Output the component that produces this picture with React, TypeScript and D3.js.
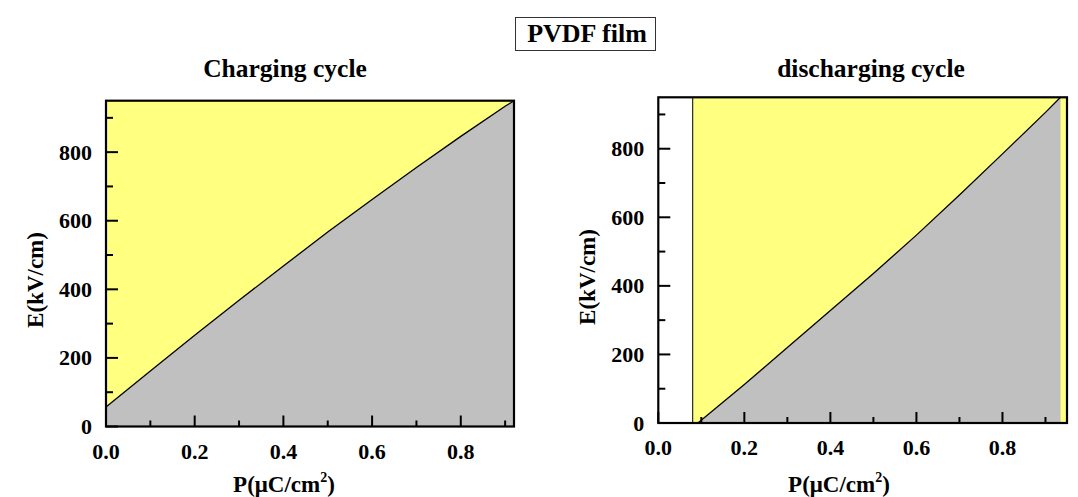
import React from 'react';
import * as d3 from 'd3';

// ---- data ----
const chargeP = [0, 0.1, 0.2, 0.3, 0.4, 0.5, 0.6, 0.7, 0.8, 0.9, 0.92];
const chargeE = [57, 162, 266, 368, 468, 567, 662, 755, 846, 934, 950];
const dischargeP = [0.092, 0.2, 0.3, 0.4, 0.5, 0.6, 0.7, 0.8, 0.9, 0.935];
const dischargeE = [0, 112, 220, 328, 436, 548, 665, 785, 906, 950];
const dischargeStartP = 0.08;
const xMajorTicks = [0, 0.2, 0.4, 0.6, 0.8];
const xMinorTicks = [0.1, 0.3, 0.5, 0.7, 0.9];
const yMajorTicks = [0, 200, 400, 600, 800];
const yMinorTicks = [100, 300, 500, 700, 900];
const chargeXMax = 0.92;
const dischargeXMax = 0.95;
const yMax = 950;

const FONT = '"Liberation Serif", "Times New Roman", serif';
const YELLOW = '#FFFF80';
const GRAY = '#C0C0C0';

type PanelProps = {
  left: number; right: number; top: number; bottom: number;
  xMax: number; P: number[]; E: number[]; discharge: boolean;
  title: string; titleX: number; xTitleX: number; yTitleX: number; yTitleY: number;
};

function Panel(p: PanelProps) {
  const x = d3.scaleLinear().domain([0, p.xMax]).range([p.left, p.right]);
  const y = d3.scaleLinear().domain([0, yMax]).range([p.bottom, p.top]);
  const pts = p.P.map((v, i) => [v, p.E[i]] as [number, number]);
  const area = d3.area<[number, number]>().x(d => x(d[0])).y0(y(0)).y1(d => y(d[1]));
  const line = d3.line<[number, number]>().x(d => x(d[0])).y(d => y(d[1]));
  const yStart = p.discharge ? dischargeStartP : 0;
  return (
    <g>
      <rect x={x(yStart)} y={p.top} width={x(p.xMax) - x(yStart)} height={p.bottom - p.top} fill={YELLOW} />
      <path d={area(pts) || ''} fill={GRAY} />
      <path d={line(pts) || ''} fill="none" stroke="#000" strokeWidth={1.3} />
      {p.discharge && (
        <line x1={x(dischargeStartP)} x2={x(dischargeStartP)} y1={p.top} y2={p.bottom} stroke="#000" strokeWidth={1} />
      )}
      {xMajorTicks.map(t => (
        <g key={'xM' + t}>
          <line x1={x(t)} x2={x(t)} y1={p.bottom} y2={p.bottom - 11} stroke="#000" strokeWidth={2} />
          <text x={x(t)} y={p.bottom + 32} textAnchor="middle" fontFamily={FONT} fontWeight="bold" fontSize={22}>{t.toFixed(1)}</text>
        </g>
      ))}
      {xMinorTicks.filter(t => t < p.xMax).map(t => (
        <line key={'xm' + t} x1={x(t)} x2={x(t)} y1={p.bottom} y2={p.bottom - 6} stroke="#000" strokeWidth={2} />
      ))}
      {yMajorTicks.map(t => (
        <g key={'yM' + t}>
          <line x1={p.left} x2={p.left + 12} y1={y(t)} y2={y(t)} stroke="#000" strokeWidth={2} />
          <text x={p.left - 14} y={y(t) + 7.5} textAnchor="end" fontFamily={FONT} fontWeight="bold" fontSize={22}>{t}</text>
        </g>
      ))}
      {yMinorTicks.map(t => (
        <line key={'ym' + t} x1={p.left} x2={p.left + 7} y1={y(t)} y2={y(t)} stroke="#000" strokeWidth={2} />
      ))}
      <rect x={p.left} y={p.top} width={p.right - p.left} height={p.bottom - p.top} fill="none" stroke="#000" strokeWidth={2.2} />
      <text x={p.titleX} y={77} textAnchor="middle" fontFamily={FONT} fontWeight="bold" fontSize={25.5}>{p.title}</text>
      <text x={p.xTitleX} y={492} textAnchor="middle" fontFamily={FONT} fontWeight="bold" fontSize={23}>
        P(μC/cm<tspan fontSize={14} dy={-10}>2</tspan><tspan dy={10}>)</tspan>
      </text>
      <text transform={`translate(${p.yTitleX},${p.yTitleY}) rotate(-90)`} textAnchor="middle" fontFamily={FONT} fontWeight="bold" fontSize={23}>E(kV/cm)</text>
    </g>
  );
}

export default function App() {
  return (
    <svg width={1078} height={497} style={{ position: 'absolute', left: 0, top: 0, background: '#fff' }}>
      <rect x={0} y={0} width={1078} height={497} fill="#fff" />
      <rect x={515.5} y={17.5} width={140} height={33} fill="#fff" stroke="#333" strokeWidth={1} />
      <text x={587} y={42} textAnchor="middle" fontFamily={FONT} fontWeight="bold" fontSize={26}>PVDF film</text>
      <Panel left={106} right={514} top={100.7} bottom={426.5} xMax={chargeXMax} P={chargeP} E={chargeE}
        discharge={false} title="Charging cycle" titleX={285} xTitleX={284} yTitleX={43} yTitleY={280} />
      <Panel left={658.3} right={1067} top={97.3} bottom={423} xMax={dischargeXMax} P={dischargeP} E={dischargeE}
        discharge={true} title="discharging cycle" titleX={871} xTitleX={839} yTitleX={595} yTitleY={277} />
    </svg>
  );
}
